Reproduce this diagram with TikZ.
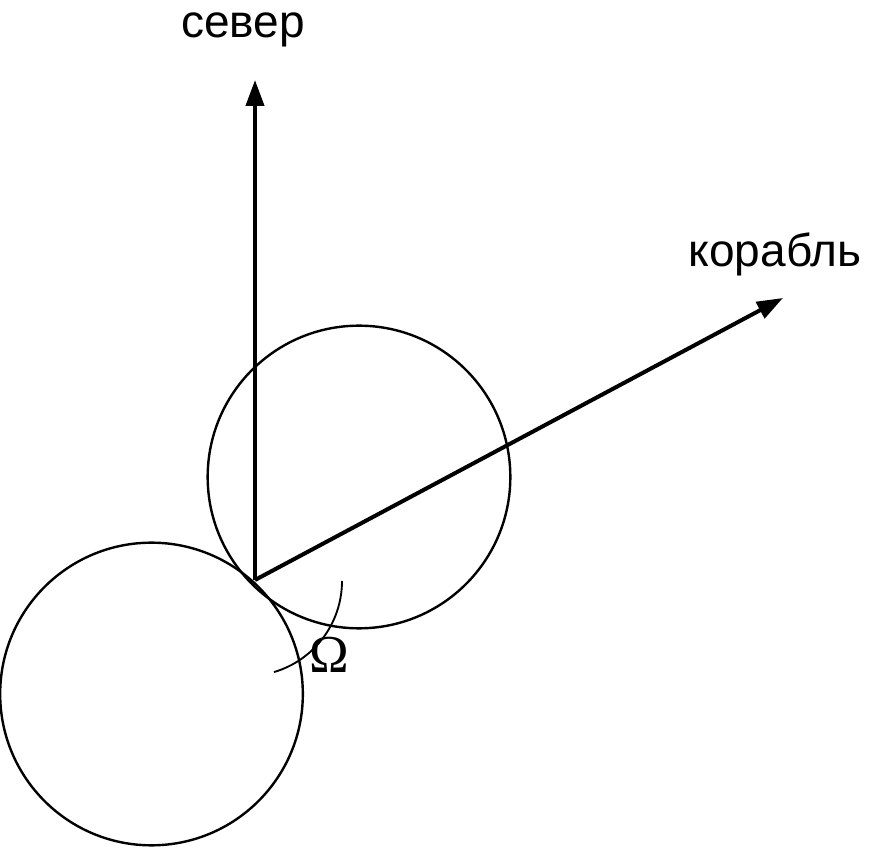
\documentclass[tikz,border=0pt]{standalone}
\usepackage{fontspec}
\setmainfont{Liberation Sans}
\newfontfamily\omegafont{Liberation Serif}
\usetikzlibrary{arrows.meta}
\begin{document}
\begin{tikzpicture}[x=0.75pt,y=0.75pt,
  vec/.style={line width=3pt,-{Triangle[length=19.5pt,width=13.5pt]}},
  ring/.style={circle,draw,line width=1.8pt,inner sep=0pt,minimum size=227pt},
  lbl/.style={anchor=base,inner sep=0pt,font=\fontsize{34.5}{40}\selectfont}]
\useasboundingbox (0,0) rectangle (872,847);
\coordinate (O) at (255,267);
\coordinate (N) at (255,767);
\coordinate (S) at (783,549);
\node[ring] (c1) at (151.5,153) {};
\node[ring] (c2) at (359,370) {};
\draw[vec] (O) -- (N);
\draw[vec] (O) -- (S);
\coordinate (A) at (342,266);
\draw[line width=1.4pt] (A) arc[start angle=0,end angle=-73.5,radius=95];
\node[lbl] (tn) at (243,809) {север};
\node[lbl] (ts) at (775,580) {корабль};
\node[anchor=base,inner sep=0pt,font=\omegafont\fontsize{40}{44}\selectfont] (om) at (329,174) {Ω};
\end{tikzpicture}
\end{document}
